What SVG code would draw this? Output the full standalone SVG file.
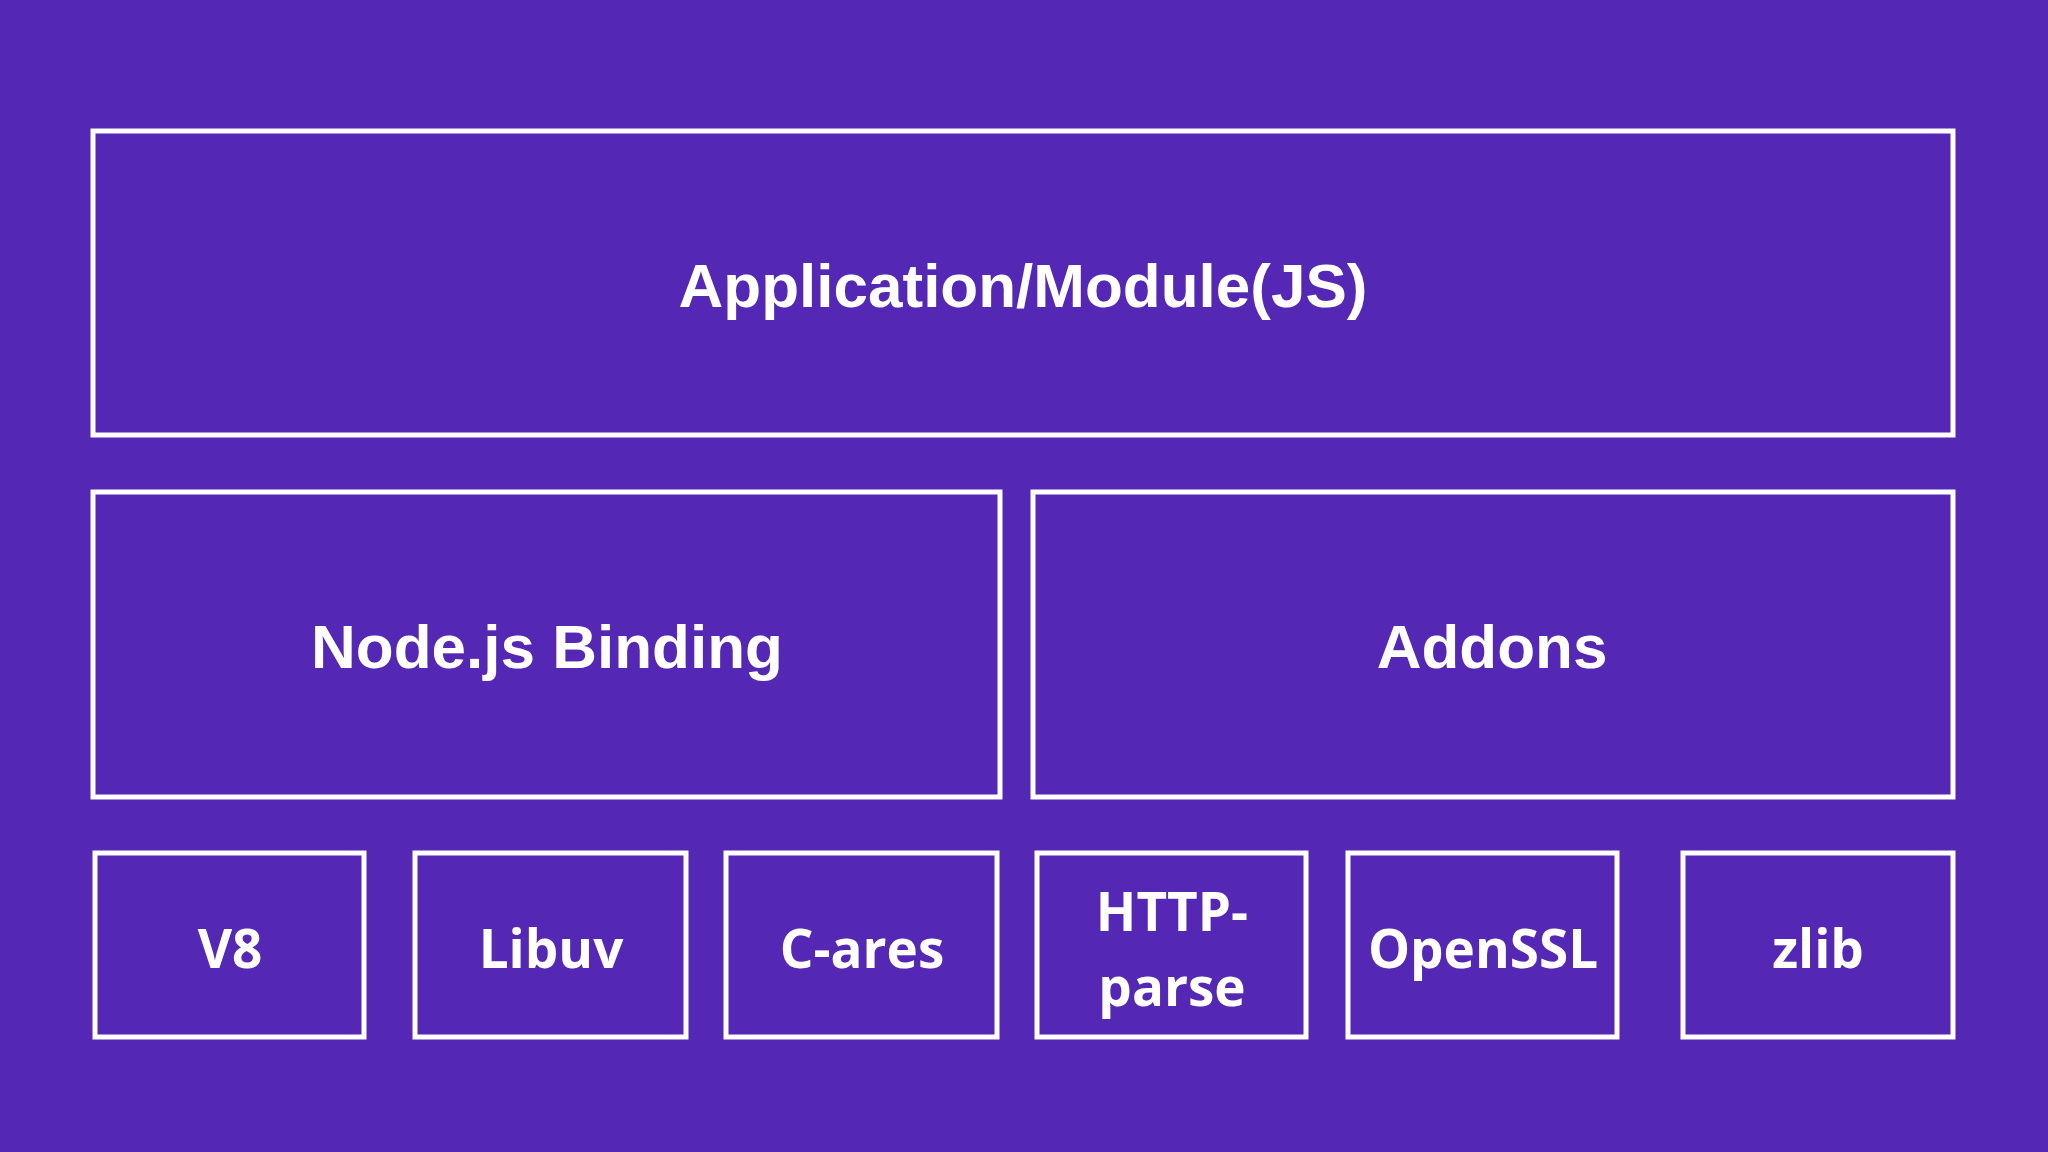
<svg xmlns="http://www.w3.org/2000/svg" width="2048" height="1152" viewBox="0 0 2048 1152">
<style>
rect.b{fill:none;stroke:#fff;stroke-width:5}
text{fill:#fff;text-anchor:middle;dominant-baseline:central}
.big{font-family:"Liberation Sans",Arial,sans-serif;font-weight:bold;font-size:62px}
.sm{font-family:"Open Sans","Noto Sans",sans-serif;font-weight:bold;font-size:53px}
</style>
<rect width="2048" height="1152" fill="#5427b4"/>
<g id="app"><rect class="b" x="93" y="131" width="1860" height="304"/><text class="big" x="1023" y="285">Application/Module(JS)</text></g>
<g id="binding"><rect class="b" x="93" y="492" width="907" height="305"/><text class="big" x="547" y="646">Node.js Binding</text></g>
<g id="addons"><rect class="b" x="1033" y="492" width="920" height="305"/><text class="big" x="1492" y="646">Addons</text></g>
<g id="v8"><rect class="b" x="95" y="853" width="269" height="184"/><text class="sm" x="230" y="947">V8</text></g>
<g id="libuv"><rect class="b" x="415" y="853" width="271" height="184"/><text class="sm" x="551" y="947">Libuv</text></g>
<g id="cares"><rect class="b" x="726" y="853" width="271" height="184"/><text class="sm" x="862" y="947">C-ares</text></g>
<g id="http"><rect class="b" x="1037" y="853" width="269" height="184"/><text class="sm" x="1172" y="910">HTTP-</text><text class="sm" x="1172" y="985">parse</text></g>
<g id="openssl"><rect class="b" x="1348" y="853" width="269" height="184"/><text class="sm" x="1483" y="947">OpenSSL</text></g>
<g id="zlib"><rect class="b" x="1683" y="853" width="270" height="184"/><text class="sm" x="1818" y="947">zlib</text></g>
<g id="connectors"/>
</svg>
